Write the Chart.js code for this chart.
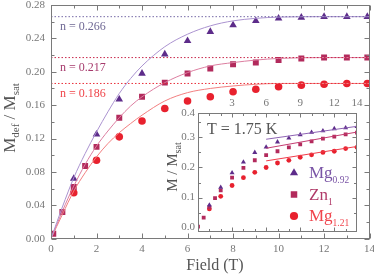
<!DOCTYPE html>
<html>
<head>
<meta charset="utf-8">
<script src="https://cdn.jsdelivr.net/npm/chart.js@4.4.1/dist/chart.umd.min.js"></script>
<style>
html,body{margin:0;padding:0;background:#fff;overflow:hidden;}
#wrap{position:relative;width:374px;height:274px;}
#main{position:absolute;left:0;top:0;z-index:2;}
#inset{position:absolute;left:150px;top:98px;z-index:1;}
</style>
</head>
<body>
<div id="wrap">
<canvas id="inset" width="215" height="137"></canvas>
<canvas id="main" width="374" height="274"></canvas>
</div>
<script>
/* main panel: M_def / M_sat vs field */
const fieldMg092 = [1,2,3,4,5,6,7,8,9,10,11,12,13,13.9];
const mdefMg092 = [0.072,0.125,0.167,0.198,0.221,0.237,0.248,0.256,0.261,0.264,0.265,0.266,0.266,0.266];
const fieldZn1 = [0.1,0.5,1,1.5,2,3,4,5,6,7,8,9,10,11,12,13,13.9];
const mdefZn1 = [0.006,0.032,0.062,0.087,0.110,0.145,0.170,0.187,0.198,0.204,0.209,0.211,0.214,0.216,0.217,0.217,0.217];
const fieldMg121 = [1,2,3,4,5,6,7,8,9,10,11,12,13,13.9];
const mdefMg121 = [0.055,0.094,0.122,0.141,0.156,0.165,0.170,0.176,0.179,0.182,0.184,0.185,0.186,0.186];

const fitField = [0,0.5,1,1.5,2,2.5,3,3.5,4,5,6,7,8,9,10,12,14];
const fitMg092 = [0,0.038,0.073,0.102,0.128,0.152,0.174,0.192,0.207,0.230,0.245,0.255,0.261,0.264,0.2655,0.266,0.266];
const fitZn1 = [0,0.033,0.063,0.089,0.111,0.129,0.145,0.159,0.170,0.187,0.199,0.207,0.211,0.214,0.216,0.217,0.217];
const fitMg121 = [0,0.029,0.057,0.079,0.098,0.114,0.127,0.138,0.148,0.165,0.175,0.180,0.183,0.185,0.186,0.186,0.186];

const nValues = [0.266,0.217,0.186];
const mainFieldTicks = [0,2,4,6,8,10,12,14];

/* inset: M / M_sat at T = 1.75 K */
const insetFieldMg092 = [1,2,3,4,5,6,7,8,9,10,11,12,13,14];
const insetMg092 = [0.075,0.134,0.182,0.218,0.250,0.268,0.285,0.298,0.309,0.317,0.322,0.329,0.332,0.336];
const insetFieldZn1 = [0,0.5,1,1.5,2,3,4,5,6,7,8,9,10,11,12,13,14];
const insetZn1 = [0.003,0.033,0.068,0.098,0.124,0.166,0.199,0.224,0.241,0.254,0.267,0.277,0.287,0.296,0.303,0.310,0.316];
const insetFieldMg121 = [1,2,3,4,5,6,7,8,9,10,11,12,13,14];
const insetMg121 = [0.062,0.104,0.140,0.166,0.184,0.200,0.215,0.224,0.234,0.242,0.250,0.254,0.263,0.267];

const lineField = [6,14];
const lineMg092 = [0.294,0.337];
const lineZn1 = [0.264,0.318];
const lineMg121 = [0.222,0.270];

const purple = "#5d2c8a", crimson = "#b22a5c", red = "#e8212e";
const FONT = '"Liberation Serif", "DejaVu Serif", serif';

function pts(xs, ys){ return xs.map((v,i)=>({x:v, y:ys[i]})); }

function drawRich(ctx, parts, x, y, align, rot, color){
ctx.save();
ctx.translate(x,y);
if(rot) ctx.rotate(rot);
let total = 0;
parts.forEach(p=>{ ctx.font = p.size + "px " + FONT; p.w = ctx.measureText(p.t).width; total += p.w; });
let cx = align === "center" ? -total/2 : 0;
ctx.fillStyle = color;
ctx.textBaseline = "alphabetic";
parts.forEach(p=>{ ctx.font = p.size + "px " + FONT; ctx.fillText(p.t, cx, p.dy || 0); cx += p.w; });
ctx.restore();
}

/* frame with inward ticks on all sides, plus extra text */
const frameTicks = {
id: "frameTicks",
beforeDraw(chart, args, opt){
if(!opt.fill) return;
const a = chart.chartArea, ctx = chart.ctx;
ctx.save();
ctx.fillStyle = opt.fill;
ctx.fillRect(a.left, a.top, a.right - a.left, a.bottom - a.top);
ctx.restore();
},
afterDraw(chart, args, opt){
const ctx = chart.ctx, a = chart.chartArea, x = chart.scales.x, y = chart.scales.y;
ctx.save();
ctx.strokeStyle = opt.color;
ctx.lineWidth = 1;
const L = Math.round(a.left) + 0.5, R = Math.round(a.right) - 0.5;
const T = Math.round(a.top) + 0.5, B = Math.round(a.bottom) - 0.5;
ctx.strokeRect(L, T, R - L, B - T);
ctx.beginPath();
const xt = (list, len)=>list.forEach(v=>{
const p = Math.round(x.getPixelForValue(v)) + 0.5;
ctx.moveTo(p, B); ctx.lineTo(p, B - len);
ctx.moveTo(p, T); ctx.lineTo(p, T + len);
});
const yt = (list, len)=>list.forEach(v=>{
const p = Math.round(y.getPixelForValue(v)) + 0.5;
ctx.moveTo(L, p); ctx.lineTo(L + len, p);
ctx.moveTo(R, p); ctx.lineTo(R - len, p);
});
xt(opt.xMajor, opt.major); xt(opt.xMinor, opt.minor);
yt(opt.yMajor, opt.major); yt(opt.yMinor, opt.minor);
ctx.stroke();
ctx.restore();
(opt.texts || []).forEach(t=>drawRich(ctx, t.parts, t.x, t.y, t.align, t.rot, t.color));
if(opt.after) opt.after(chart);
}
};

function range(a, b, s){ const r = []; for(let v = a; v <= b + 1e-9; v += s) r.push(+v.toFixed(4)); return r; }

const lineSet = (data, color, extra)=>Object.assign({
type:"line", data:data, borderColor:color, borderWidth:1, pointRadius:0,
fill:false, showLine:true, cubicInterpolationMode:"monotone"
}, extra || {});
const markSet = (data, color, style, r)=>({
type:"scatter", data:data, backgroundColor:color, borderWidth:0,
pointStyle:style, pointRadius:r, pointHoverRadius:r
});

const nColors = ["#7668a6","#c8284a","#ea2f3a"];
const nTextColors = ["#6f6894","#a63a6c","#f0454a"];

const mainDatasets = [];
nValues.forEach((n,i)=>{
mainDatasets.push(lineSet([{x:0,y:n},{x:14,y:n}], nColors[i], {borderDash:[1.5,2], cubicInterpolationMode:"default"}));
});
mainDatasets.push(lineSet(pts(fitField, fitMg092), "#ab93d0"));
mainDatasets.push(lineSet(pts(fitField, fitZn1), "#dc7ea0"));
mainDatasets.push(lineSet(pts(fitField, fitMg121), "#f27f80"));
mainDatasets.push(markSet(pts(fieldMg092, mdefMg092), purple, "triangle", 4.4));
mainDatasets.push(markSet(pts(fieldZn1, mdefZn1), crimson, "rect", 4.2));
mainDatasets.push(markSet(pts(fieldMg121, mdefMg121), red, "circle", 3.8));

new Chart(document.getElementById("main"), {
type:"scatter",
data:{datasets:mainDatasets},
options:{
responsive:false, animation:false, devicePixelRatio:1,
layout:{padding:{top:5, right:4, left:0, bottom:0}},
plugins:{
legend:{display:false}, tooltip:{enabled:false},
frameTicks:{
color:"#7a7a7a", major:5, minor:3,
xMajor:mainFieldTicks, xMinor:range(1,13,2),
yMajor:range(0,0.28,0.04), yMinor:range(0.02,0.26,0.04),
texts:[
{parts:[{t:"M",size:17},{t:"def",size:11,dy:4},{t:" / M",size:17},{t:"sat",size:11,dy:4}], x:15, y:118, align:"center", rot:-Math.PI/2, color:"#555"},
{parts:[{t:"Field (T)",size:16}], x:215, y:270, align:"center", color:"#555"}
],
after(chart){
const ctx = chart.ctx, x = chart.scales.x, y = chart.scales.y;
nValues.forEach((n,i)=>{
drawRich(ctx, [{t:"n = " + n.toFixed(3), size:12}], x.getPixelForValue(0.4), y.getPixelForValue(n - 0.0165), "left", 0, nTextColors[i]);
});
// field tick labels
ctx.save();
ctx.font = "11px " + FONT;
ctx.fillStyle = "#777";
ctx.textAlign = "center";
ctx.textBaseline = "middle";
mainFieldTicks.forEach(v=>ctx.fillText(String(v), x.getPixelForValue(v), chart.chartArea.bottom + 10.5));
ctx.restore();
}
}
},
scales:{
x:{
type:"linear", min:0, max:14,
grid:{display:false, drawTicks:false}, border:{display:false},
ticks:{display:false},
afterFit(s){ s.height = 35.3; s.paddingLeft = 0; s.paddingRight = 0; }
},
y:{
type:"linear", min:0, max:0.28,
grid:{display:false, drawTicks:false}, border:{display:false},
ticks:{stepSize:0.04, padding:6, autoSkip:false, color:"#777", font:{family:FONT, size:11}, callback:v=>v.toFixed(2)},
afterFit(s){ s.width = 51; s.paddingTop = 0; s.paddingBottom = 0; }
}
}
},
plugins:[frameTicks]
});

/* inset */
const insetDatasets = [
lineSet(pts(lineField, lineMg092), "#8e63b4", {cubicInterpolationMode:"default"}),
lineSet(pts(lineField, lineZn1), "#c43c70", {cubicInterpolationMode:"default"}),
lineSet(pts(lineField, lineMg121), "#f03c4a", {cubicInterpolationMode:"default"}),
markSet(pts(insetFieldMg092, insetMg092), purple, "triangle", 2.9),
markSet(pts(insetFieldZn1, insetZn1), crimson, "rect", 2.7),
markSet(pts(insetFieldMg121, insetMg121), red, "circle", 2.4)
];

const legendRows = [
{style:"triangle", r:4.7, color:purple, text:"Mg", sub:"0.92", tc:"#7a55a6"},
{style:"rect", r:4.6, color:crimson, text:"Zn", sub:"1", tc:"#b03a68"},
{style:"circle", r:4.1, color:red, text:"Mg", sub:"1.21", tc:"#f0444c"}
];

new Chart(document.getElementById("inset"), {
type:"scatter",
data:{datasets:insetDatasets},
options:{
responsive:false, animation:false, devicePixelRatio:1,
layout:{padding:{top:0, right:8, left:0, bottom:0.3}},
plugins:{
legend:{display:false}, tooltip:{enabled:false},
frameTicks:{
fill:"#fff", color:"#7a7a7a", major:4, minor:2.5,
xMajor:[3,6,9,12], xMinor:[1,2,4,5,7,8,10,11,13],
yMajor:[0.1,0.2,0.3], yMinor:[0.05,0.15,0.25,0.35],
texts:[
{parts:[{t:"T = 1.75 K",size:16}], x:57, y:36, align:"left", color:"#555"},
{parts:[{t:"M / M",size:15},{t:"sat",size:10,dy:3.5}], x:27, y:69, align:"center", rot:-Math.PI/2, color:"#555"}
],
after(chart){
const ctx = chart.ctx;
legendRows.forEach((row,i)=>{
const cy = 75 + i*21.5;
ctx.fillStyle = row.color;
Chart.helpers.drawPoint(ctx, {pointStyle:row.style, radius:row.r, borderWidth:0}, 144, cy);
drawRich(ctx, [{t:row.text,size:17},{t:row.sub,size:9.5,dy:5}], 159, cy + 5, "left", 0, row.tc);
});
}
}
},
scales:{
x:{
type:"linear", position:"top", min:0, max:14,
grid:{display:false, drawTicks:false}, border:{display:false},
ticks:{padding:4, autoSkip:false, maxRotation:0, color:"#777", font:{family:FONT, size:11}},
afterBuildTicks(s){ s.ticks = [3,6,9,12,14].map(v=>({value:v})); },
afterFit(s){ s.height = 15.4; s.paddingLeft = 0; s.paddingRight = 0; }
},
y:{
type:"linear", min:-0.015, max:0.38,
grid:{display:false, drawTicks:false}, border:{display:false},
ticks:{padding:3, autoSkip:false, color:"#777", font:{family:FONT, size:11}, callback:v=>v.toFixed(1)},
afterBuildTicks(s){ s.ticks = [0,0.1,0.2,0.3,0.38].map(v=>({value:v})); },
afterFit(s){ s.width = 48; s.paddingTop = 0; s.paddingBottom = 0; }
}
}
},
plugins:[frameTicks]
});
</script>
</body>
</html>
